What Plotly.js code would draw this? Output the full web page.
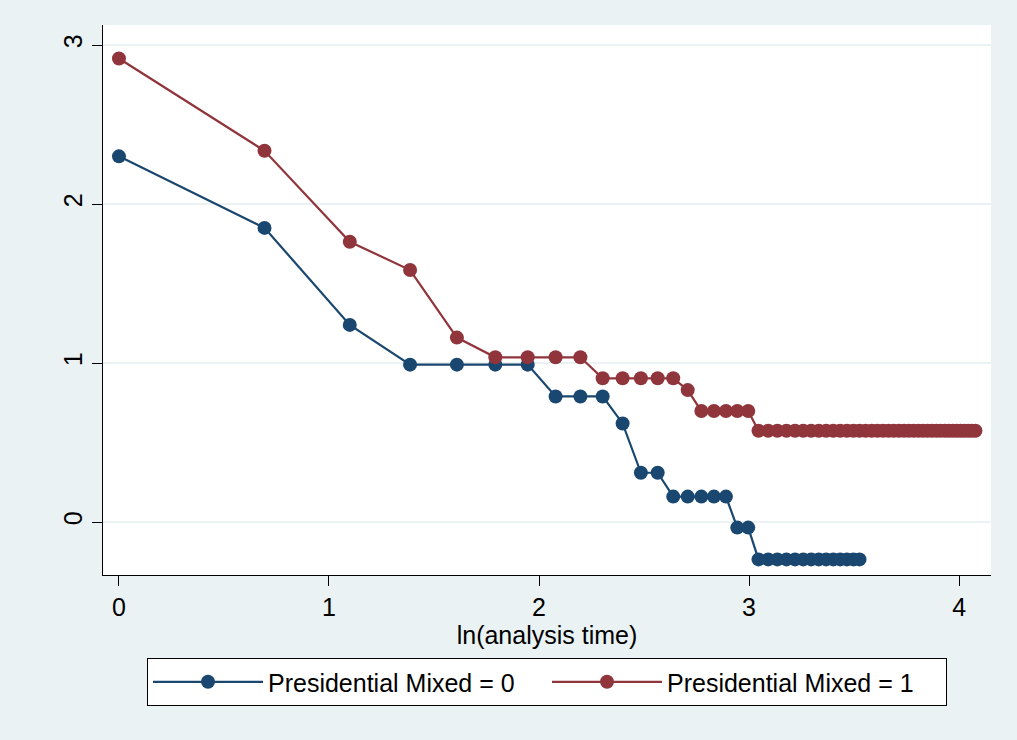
<!DOCTYPE html>
<html>
<head>
<meta charset="utf-8">
<script src="https://cdn.plot.ly/plotly-3.0.1.min.js"></script>
<style>html,body{margin:0;padding:0;background:#eaf2f3;}#chart{width:1017px;height:740px;}</style>
</head>
<body>
<div id="chart"></div>
<script>
// ln(analysis time) values
const lnTime0 = [0, 0.693, 1.099, 1.386, 1.609, 1.792, 1.946, 2.079, 2.197, 2.303, 2.398, 2.485, 2.565, 2.639, 2.708, 2.773, 2.833, 2.890, 2.944, 2.996,
  3.045, 3.091, 3.135, 3.178, 3.219, 3.258, 3.296, 3.332, 3.367, 3.401, 3.434, 3.466, 3.497, 3.526];
const lnlnS0 = [2.30, 1.85, 1.24, 0.99, 0.99, 0.99, 0.99, 0.79, 0.79, 0.79, 0.62, 0.31, 0.31, 0.16, 0.16, 0.16, 0.16, 0.16, -0.035, -0.035,
  -0.235, -0.235, -0.235, -0.235, -0.235, -0.235, -0.235, -0.235, -0.235, -0.235, -0.235, -0.235, -0.235, -0.235];

const lnTime1 = [0, 0.693, 1.099, 1.386, 1.609, 1.792, 1.946, 2.079, 2.197, 2.303, 2.398, 2.485, 2.565, 2.639, 2.708, 2.773, 2.833, 2.890, 2.944, 2.996,
  3.045, 3.091, 3.135, 3.178, 3.219, 3.258, 3.296, 3.332, 3.367, 3.401, 3.434, 3.466, 3.497, 3.526, 3.555, 3.584, 3.611, 3.638, 3.664, 3.689,
  3.714, 3.738, 3.761, 3.784, 3.807, 3.829, 3.850, 3.871, 3.892, 3.912, 3.932, 3.951, 3.970, 3.989, 4.007, 4.025, 4.043, 4.060, 4.078];
const lnlnS1 = [2.915, 2.335, 1.763, 1.585, 1.16, 1.036, 1.036, 1.036, 1.036, 0.904, 0.904, 0.904, 0.904, 0.904, 0.83, 0.698, 0.698, 0.698, 0.698, 0.698,
  0.574, 0.574, 0.574, 0.574, 0.574, 0.574, 0.574, 0.574, 0.574, 0.574, 0.574, 0.574, 0.574, 0.574, 0.574, 0.574, 0.574, 0.574, 0.574, 0.574,
  0.574, 0.574, 0.574, 0.574, 0.574, 0.574, 0.574, 0.574, 0.574, 0.574, 0.574, 0.574, 0.574, 0.574, 0.574, 0.574, 0.574, 0.574, 0.574];

const seriesNames = ["Presidential Mixed = 0", "Presidential Mixed = 1"];
const xTicks = [0, 1, 2, 3, 4];
const yTicks = [0, 1, 2, 3];

const blue = "#1a476f", red = "#90353b";
const font = "Liberation Sans, Arial, sans-serif";

const traces = [
  {x: lnTime0, y: lnlnS0, name: seriesNames[0], mode: "lines+markers", type: "scatter",
   line: {color: blue, width: 2.2}, marker: {color: blue, size: 14}},
  {x: lnTime1, y: lnlnS1, name: seriesNames[1], mode: "lines+markers", type: "scatter",
   line: {color: red, width: 2.2}, marker: {color: red, size: 14}}
];

const layout = {
  width: 1017, height: 740,
  paper_bgcolor: "#eaf2f3", plot_bgcolor: "#ffffff",
  margin: {l: 103, r: 26, t: 25, b: 165},
  font: {family: font, size: 25, color: "#000"},
  showlegend: true,
  xaxis: {
    range: [-0.076, 4.152], tickvals: xTicks, ticktext: xTicks.map(String),
    showgrid: false, zeroline: false, showline: true, linecolor: "#000", linewidth: 1,
    ticks: "outside", ticklen: 10, tickcolor: "#000", tickwidth: 1,
    tickfont: {size: 25, family: font},
    title: {text: "ln(analysis time)", font: {size: 25, family: font}, standoff: 0}
  },
  yaxis: {
    range: [-0.333, 3.126], tickvals: yTicks, ticktext: yTicks.map(String),
    showgrid: true, gridcolor: "#eaf2f3", gridwidth: 2, zeroline: false,
    showline: true, linecolor: "#000", linewidth: 1,
    ticks: "outside", ticklen: 10, tickcolor: "#000", tickwidth: 1,
    tickangle: -90, tickfont: {size: 25, family: font}
  },
  legend: {
    orientation: "h", x: 0.5, xanchor: "center", y: -0.151, yanchor: "top",
    bgcolor: "#ffffff", bordercolor: "#000", borderwidth: 1,
    font: {size: 25, family: font}, entrywidth: 274, itemwidth: 110
  }
};

Plotly.newPlot("chart", traces, layout, {displayModeBar: false, staticPlot: true});
</script>
</body>
</html>
